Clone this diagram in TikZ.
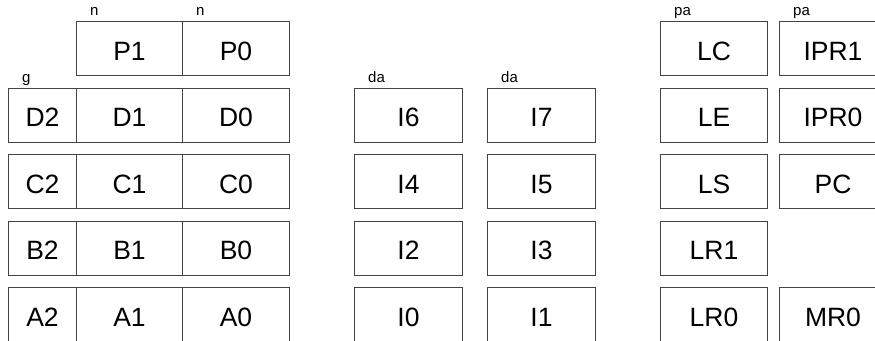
\documentclass[tikz,border=0pt]{standalone}
\usepackage{fontspec}
\setmainfont{Liberation Sans}
\usetikzlibrary{positioning}
\definecolor{regline}{HTML}{444444}
\begin{document}
\begin{tikzpicture}[x=1pt, y=-1pt,
    reg/.style={rectangle, draw=regline, line width=1pt, anchor=north west, minimum height=54pt, inner sep=0pt, text height=23pt, text depth=0pt, font=\fontsize{26.5}{28}\selectfont},
    tag/.style={anchor=base west, inner sep=0pt, font=\fontsize{15}{16}\selectfont}]
    \useasboundingbox (0,0) rectangle (875,340);
    \clip (0,0) rectangle (875,340);
    % top row of the left block
    \node[reg, minimum width=106pt] (P1) at (76,21) {P1};
    \node[reg, minimum width=107pt] (P0) at (182,21) {P0};
    % left block and middle pairs
    \foreach \r/\a/\b [count=\i from 0] in {D/6/7, C/4/5, B/2/3, A/0/1} {
        \pgfmathsetmacro{\rowy}{87.5+66.5*\i}
        \node[reg, minimum width=68pt] (\r2) at (8,\rowy) {\r2};
        \node[reg, minimum width=106pt] (\r1) at (76,\rowy) {\r1};
        \node[reg, minimum width=107pt] (\r0) at (182,\rowy) {\r0};
        \node[reg, minimum width=108pt] (I\a) at (354,\rowy) {I\a};
        \node[reg, minimum width=108pt] (I\b) at (487,\rowy) {I\b};
    }
    % right block
    \node[reg, minimum width=107pt] (LC) at (660,21) {LC};
    \node[reg, minimum width=107pt] (IPR1) at (779,21) {IPR1};
    \node[reg, minimum width=107pt] (LE) at (660,87.5) {LE};
    \node[reg, minimum width=107pt] (IPR0) at (779,87.5) {IPR0};
    \node[reg, minimum width=107pt] (LS) at (660,154) {LS};
    \node[reg, minimum width=107pt] (PC) at (779,154) {PC};
    \node[reg, minimum width=107pt] (LR1) at (660,220.5) {LR1};
    \node[reg, minimum width=107pt] (LR0) at (660,287) {LR0};
    \node[reg, minimum width=107pt] (MR0) at (779,287) {MR0};
    % small tags
    \node[tag] (tagP1) at ([xshift=14pt, yshift=5pt]P1.north west) {n};
    \node[tag] (tagP0) at ([xshift=14pt, yshift=5pt]P0.north west) {n};
    \node[tag] (tagD2) at ([xshift=14pt, yshift=5pt]D2.north west) {g};
    \node[tag] (tagI6) at ([xshift=14pt, yshift=5pt]I6.north west) {da};
    \node[tag] (tagI7) at ([xshift=14pt, yshift=5pt]I7.north west) {da};
    \node[tag] (tagLC) at ([xshift=14pt, yshift=5pt]LC.north west) {pa};
    \node[tag] (tagIPR1) at ([xshift=14pt, yshift=5pt]IPR1.north west) {pa};
\end{tikzpicture}
\end{document}
